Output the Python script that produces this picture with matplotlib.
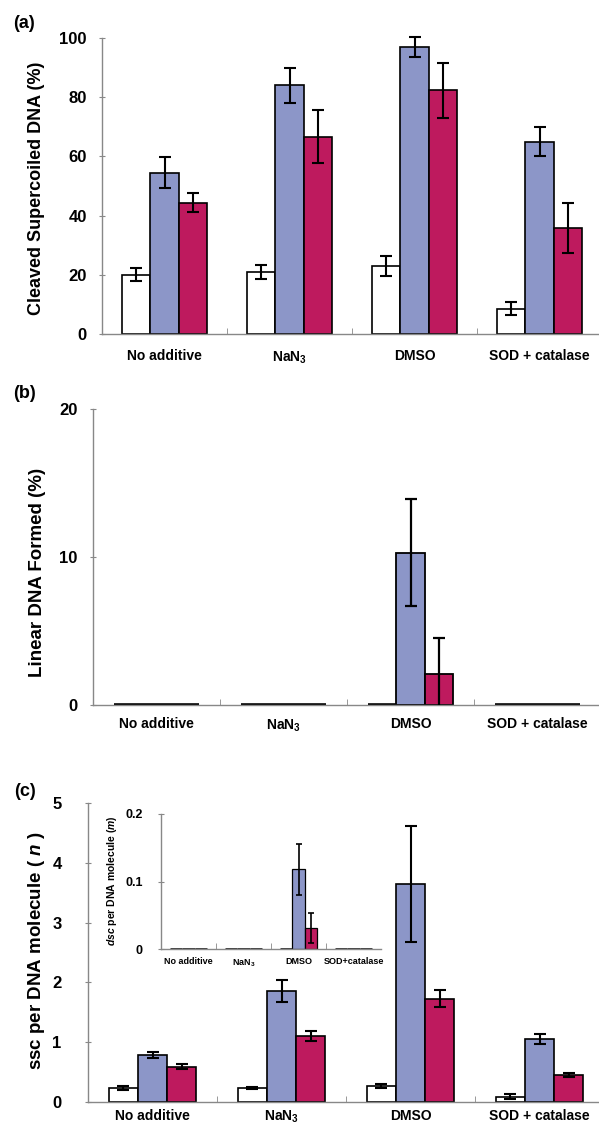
import matplotlib
matplotlib.use('Agg')
import matplotlib.pyplot as plt
import numpy as np

plt.rcParams['font.family'] = 'Liberation Sans'
plt.rcParams['mathtext.fontset'] = 'custom'
plt.rcParams['mathtext.rm'] = 'Liberation Sans'
plt.rcParams['mathtext.it'] = 'Liberation Sans:italic'
plt.rcParams['mathtext.bf'] = 'Liberation Sans:bold'
plt.rcParams['mathtext.bfit'] = 'Liberation Sans:italic:bold'

cats = ['No additive', r'NaN$_\mathbf{3}$', 'DMSO', 'SOD + catalase']
inset_cats = ['No additive', r'NaN$_\mathbf{3}$', 'DMSO', 'SOD+catalase']

# (a) cleaved supercoiled DNA (%)
a_white = [20.0, 21.0, 23.0, 8.5]
a_white_err = [2.2, 2.3, 3.5, 2.2]
a_blue = [54.5, 84.0, 97.0, 65.0]
a_blue_err = [5.3, 6.0, 3.5, 5.0]
a_red = [44.3, 66.7, 82.3, 35.7]
a_red_err = [3.2, 9.0, 9.2, 8.5]

# (b) linear DNA formed (%)
b_white = [0, 0, 0, 0]
b_white_err = [0, 0, 0, 0]
b_blue = [0, 0, 10.3, 0]
b_blue_err = [0, 0, 3.6, 0]
b_red = [0, 0, 2.1, 0]
b_red_err = [0, 0, 2.4, 0]

# (c) ssc per DNA molecule
c_white = [0.23, 0.23, 0.27, 0.09]
c_white_err = [0.03, 0.02, 0.03, 0.04]
c_blue = [0.79, 1.85, 3.64, 1.05]
c_blue_err = [0.05, 0.185, 0.97, 0.08]
c_red = [0.59, 1.10, 1.73, 0.45]
c_red_err = [0.04, 0.08, 0.14, 0.03]

# inset: dsc per DNA molecule
d_white = [0, 0, 0, 0]
d_white_err = [0, 0, 0, 0]
d_blue = [0, 0, 0.118, 0]
d_blue_err = [0, 0, 0.038, 0]
d_red = [0, 0, 0.031, 0]
d_red_err = [0, 0, 0.022, 0]

colors = ['white', '#8C96C8', '#BE1A5E']
W, H = 599, 1129
fig = plt.figure(figsize=(W / 100, H / 100), dpi=100)


def px_axes(left, top, right, bottom):
    return fig.add_axes([left / W, 1 - bottom / H, (right - left) / W, (bottom - top) / H])


def draw(ax, series, errs, labels, ylim, yticks, width=0.225, lw=1.2, cap=4,
         ylab_size=12, xlab_size=10, xpad=10, ypad=6, zero_lw=2.2, clip=False):
    x = np.arange(len(labels))
    for i, (vals, err, col) in enumerate(zip(series, errs, colors)):
        xs = x + (i - 1) * width
        v = np.array(vals, dtype=float)
        lws = np.where(v == 0, zero_lw, lw)
        ax.bar(xs, v, width, color=col, edgecolor='black', linewidth=lws, zorder=2)
        e = np.array(err)
        m = e > 0
        eb = ax.errorbar(xs[m], v[m], yerr=e[m], fmt='none', ecolor='black',
                         elinewidth=lw + 0.3, capsize=cap, capthick=lw + 0.3, zorder=3)
        for art in eb.lines[1] + eb.lines[2]:
            art.set_clip_on(clip)
    ax.set_xlim(-0.5, len(labels) - 0.5)
    ax.set_ylim(*ylim)
    ax.set_yticks(yticks)
    ax.set_xticks(x)
    ax.set_xticklabels(labels, fontweight='bold', fontsize=xlab_size)
    ax.set_xticks(x[:-1] + 0.5, minor=True)
    ax.tick_params(axis='x', which='major', length=0, pad=xpad)
    ax.tick_params(axis='x', which='minor', direction='in', length=4, color='#888888')
    ax.tick_params(axis='y', direction='inout', length=4, color='#888888', pad=ypad,
                   labelsize=ylab_size)
    for t in ax.get_yticklabels():
        t.set_fontweight('bold')
    for s in ['top', 'right']:
        ax.spines[s].set_visible(False)
    for s in ['left', 'bottom']:
        ax.spines[s].set_color('#888888')
        ax.spines[s].set_linewidth(1.0)
    ax.set_facecolor('none')


ax_a = px_axes(102, 38, 602, 334)
draw(ax_a, [a_white, a_blue, a_red], [a_white_err, a_blue_err, a_red_err], cats,
     (0, 100), [0, 20, 40, 60, 80, 100], xpad=11, ypad=9)

# in (b) the lower end of the red DMSO error bar is cut by the axis
ax_b = px_axes(93, 409, 601, 705)
draw(ax_b, [b_white, b_blue, b_red], [b_white_err, b_blue_err, b_red_err], cats,
     (0, 20), [0, 10, 20], lw=1.3, xpad=9, ypad=9, zero_lw=2.6, clip=True)

ax_c = px_axes(88, 803, 604, 1102)
draw(ax_c, [c_white, c_blue, c_red], [c_white_err, c_blue_err, c_red_err], cats,
     (0, 5), [0, 1, 2, 3, 4, 5], xpad=5, ypad=17)

ax_d = px_axes(161, 814, 381, 949)
draw(ax_d, [d_white, d_blue, d_red], [d_white_err, d_blue_err, d_red_err], inset_cats,
     (0, 0.2), [0, 0.1, 0.2], lw=0.9, cap=2.5, ylab_size=9, xlab_size=6.5, xpad=6, ypad=11,
     zero_lw=1.8)
ax_d.set_yticklabels(['0', '0.1', '0.2'], fontweight='bold')

# axis titles
fig.text(37 / W, 1 - 188 / H, 'Cleaved Supercoiled DNA (%)', rotation=90,
         ha='center', va='center', fontsize=13, fontweight='bold')
fig.text(38 / W, 1 - 572 / H, 'Linear DNA Formed (%)', rotation=90,
         ha='center', va='center', fontsize=13.5, fontweight='bold')
fig.text(37 / W, 1 - 951 / H, r'ssc per DNA molecule ( $\mathbfit{n}$ )', rotation=90,
         ha='center', va='center', fontsize=13.5, fontweight='bold')
fig.text(112 / W, 1 - 881 / H, r'$\mathbfit{dsc}$ per DNA molecule ($\mathbfit{m}$)',
         rotation=90, ha='center', va='center', fontsize=7.5, fontweight='bold')

# panel letters
fig.text(13 / W, 1 - 23 / H, '(a)', ha='left', va='center', fontsize=13, fontweight='bold')
fig.text(13 / W, 1 - 394 / H, '(b)', ha='left', va='center', fontsize=13, fontweight='bold')
fig.text(14 / W, 1 - 792 / H, '(c)', ha='left', va='center', fontsize=13, fontweight='bold')

fig.savefig('out.png', dpi=100)
